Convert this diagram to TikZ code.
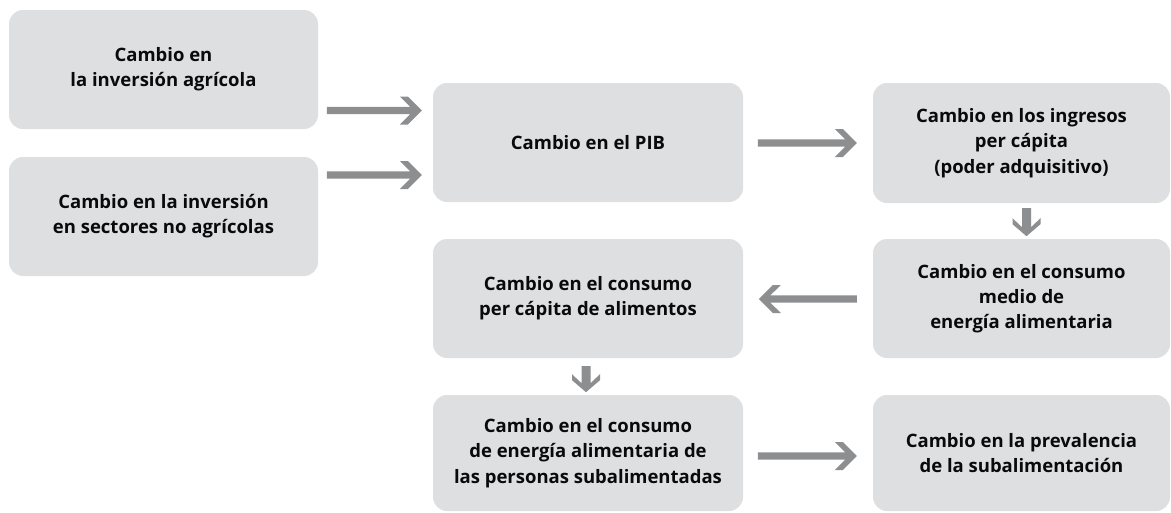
\documentclass[tikz,border=0pt]{standalone}
\usepackage{fontspec}
\setmainfont{Open Sans}
\usetikzlibrary{calc}
\definecolor{boxgray}{HTML}{DEDFE1}
\definecolor{arrowgray}{HTML}{8D8E90}
\definecolor{txt}{HTML}{0A0A0A}
\tikzset{
  box/.style={rectangle, rounded corners=14pt, fill=boxgray, align=center,
    text=txt, inner sep=0pt, font=\bfseries\fontsize{18.5}{25.2}\selectfont},
  pics/harr/.style={code={\fill[arrowgray] (0,0) -- (-14,-14) -- (-22,-14) -- (-11.5,-3.6)
      -- (-#1,-3.6) -- (-#1,3.6) -- (-11.5,3.6) -- (-22,14) -- (-14,14) -- cycle;}},
  pics/varr/.style={code={\fill[arrowgray] (0,0) -- (14,-12) -- (14,-18) -- (4.5,-9)
      -- (4.5,-#1) -- (-4.5,-#1) -- (-4.5,-9) -- (-14,-18) -- (-14,-12) -- cycle;}},
}
\begin{document}
\begin{tikzpicture}[x=1pt,y=-1pt]
\useasboundingbox (0,0) rectangle (1171,512);
\node[box, minimum width=309, minimum height=119] (A) at (163.5,69.5) {Cambio en\\la inversión agrícola};
\node[box, minimum width=309, minimum height=119] (B) at (163.5,216.5) {Cambio en la inversión\\en sectores no agrícolas};
\node[box, minimum width=310, minimum height=119] (PIB) at (588,142.5) {Cambio en el PIB};
\node[box, minimum width=297, minimum height=120] (ING) at (1021.5,143) {Cambio en los ingresos\\per cápita\\(poder adquisitivo)};
\node[box, minimum width=297, minimum height=119] (MED) at (1021.5,298.5) {Cambio en el consumo\\medio de\\energía alimentaria};
\node[box, minimum width=310, minimum height=119] (ALI) at (588,298.5) {Cambio en el consumo\\per cápita de alimentos};
\node[box, minimum width=310, minimum height=116] (PER) at (588,453) {Cambio en el consumo\\de energía alimentaria de\\las personas subalimentadas};
\node[box, minimum width=297, minimum height=116] (PRE) at (1021.5,453) {Cambio en la prevalencia\\de la subalimentación};
% connectors
\pic at ($(PIB.west)+(-11,-32)$) {harr=95};
\pic at ($(PIB.west)+(-11,32.5)$) {harr=95};
\pic at ($(ING.west)+(-16,0)$) {harr=99};
\pic[rotate=180] at ($(MED.west)+(-114,0.5)$) {harr=98};
\pic at ($(PRE.west)+(-16,3)$) {harr=99};
\pic at ($(ING.south)+(5,33)$) {varr=28};
\pic at ($(ALI.south)+(-2,34)$) {varr=26};
\end{tikzpicture}
\end{document}
